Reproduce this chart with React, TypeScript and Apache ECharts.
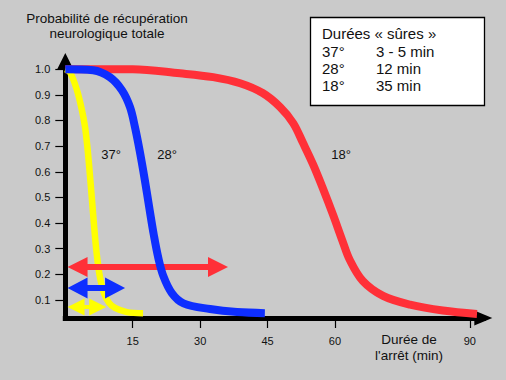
import React, { useEffect, useRef } from 'react';
import * as echarts from 'echarts';

// ---- Data ----
const redMinutes = [0, 15, 25.5, 32.9, 38.9, 44, 47.8, 50.7, 52.9, 55.1, 57.3, 59.6, 61.6, 63.3, 66.2, 70.7, 76.7, 84, 91.6];
const redProb = [1.0, 1.0, 0.984, 0.969, 0.945, 0.906, 0.852, 0.79, 0.712, 0.63, 0.536, 0.431, 0.334, 0.256, 0.174, 0.116, 0.082, 0.059, 0.046];

const blueMinutes = [0, 6.2, 9.9, 12.6, 14.4, 15.5, 16.6, 17.7, 18.7, 19.7, 20.7, 21.8, 23.7, 26.3, 32.2, 38.2, 44.4];
const blueProb = [1.0, 0.996, 0.969, 0.918, 0.852, 0.774, 0.677, 0.567, 0.458, 0.353, 0.264, 0.194, 0.127, 0.087, 0.065, 0.053, 0.049];

const yellowMinutes = [0, 1.05, 2.6, 3.7, 4.4, 4.94, 5.5, 6.05, 6.6, 7.1, 7.7, 8.6, 9.7, 11.06, 13.7, 17.3];
const yellowProb = [1.0, 0.988, 0.918, 0.84, 0.774, 0.692, 0.583, 0.466, 0.349, 0.264, 0.19, 0.127, 0.09, 0.069, 0.053, 0.049];

// Double arrows ("safe durations"): start, end (minutes), level (probability)
const arrowFrom = [0.5, 0.5, 0.5];
const arrowTo = [36.2, 13.3, 9.1];
const arrowLevel = [0.229, 0.147, 0.073];

const xTicks = [15, 30, 45, 60, 90];
const yTicks = [0.1, 0.2, 0.3, 0.4, 0.5, 0.6, 0.7, 0.8, 0.9, 1.0];

const curveLabels = ['37°', '28°', '18°'];
const legendTitle = 'Durées « sûres »';
const legendTemps = ['37°', '28°', '18°'];
const legendDurations = ['3 - 5 min', '12 min', '35 min'];

const yTitle = 'Probabilité de récupération\nneurologique totale';
const xTitle = "Durée de\nl'arrêt (min)";

// ---- Styles ----
const FONT = 'Arial, "Liberation Sans", sans-serif';
const BG = '#cacaca';
const RED = '#ff3038';
const BLUE = '#0e2eff';
const YELLOW = '#ffff00';
const TXT = '#111111';

const arrowColors = [RED, BLUE, YELLOW];
const arrowHeadH = [20, 21, 17];
const arrowHeadL = [20, 20, 17];
const arrowShaft = [6, 6, 4];

const pairs = (xs: number[], ys: number[]) => xs.map((x, i) => [x, ys[i]]);

export default function App() {
  const ref = useRef<HTMLDivElement>(null);

  useEffect(() => {
    if (!ref.current) return;
    const chart = echarts.init(ref.current, null, { renderer: 'svg' });

    const curve = (data: number[][], color: string, width: number, z: number) => ({
      type: 'line',
      data,
      smooth: 0.35,
      showSymbol: false,
      symbol: 'none',
      silent: true,
      clip: false,
      z,
      lineStyle: { color, width, cap: 'butt', join: 'round' },
    });

    const option: any = {
      animation: false,
      backgroundColor: BG,
      grid: { left: 65.3, right: 22.7, top: 61.5, bottom: 62, containLabel: false },
      xAxis: {
        type: 'value',
        min: 0,
        max: 93,
        splitLine: { show: false },
        axisLine: {
          show: true,
          onZero: false,
          symbol: ['none', 'triangle'],
          symbolSize: [15, 18],
          lineStyle: { color: '#000', width: 5, cap: 'square' },
        },
        axisTick: { show: true, length: 10, customValues: xTicks, lineStyle: { color: '#000', width: 1.2 } },
        axisLabel: {
          show: true,
          customValues: xTicks,
          margin: 17,
          fontSize: 11,
          fontFamily: FONT,
          color: TXT,
        },
      },
      yAxis: {
        type: 'value',
        min: 0.03,
        max: 1.03,
        splitLine: { show: false },
        axisLine: {
          show: true,
          onZero: false,
          symbol: ['none', 'triangle'],
          symbolSize: [17, 17],
          lineStyle: { color: '#000', width: 5, cap: 'square' },
        },
        axisTick: { show: true, length: 10, customValues: yTicks, lineStyle: { color: '#000', width: 1.2 } },
        axisLabel: {
          show: true,
          customValues: yTicks,
          margin: 15,
          fontSize: 11,
          fontFamily: FONT,
          color: TXT,
          formatter: (v: number) => v.toFixed(1),
        },
      },
      series: [
        curve(pairs(redMinutes, redProb), RED, 8, 2),
        curve(pairs(yellowMinutes, yellowProb), YELLOW, 6.5, 3),
        {
          type: 'custom',
          z: 4,
          silent: true,
          clip: false,
          encode: { x: [0, 1], y: 2 },
          data: arrowFrom.map((f, i) => [f, arrowTo[i], arrowLevel[i]]),
          renderItem: (params: any, api: any) => {
            const i = params.dataIndex;
            const a = api.coord([api.value(0), api.value(2)]);
            const b = api.coord([api.value(1), api.value(2)]);
            const y = a[1];
            const hh = arrowHeadH[i] / 2;
            const hl = arrowHeadL[i];
            const sw = arrowShaft[i] / 2;
            const points = [
              [a[0], y],
              [a[0] + hl, y - hh],
              [a[0] + hl, y - sw],
              [b[0] - hl, y - sw],
              [b[0] - hl, y - hh],
              [b[0], y],
              [b[0] - hl, y + hh],
              [b[0] - hl, y + sw],
              [a[0] + hl, y + sw],
              [a[0] + hl, y + hh],
            ];
            return { type: 'polygon', shape: { points }, style: { fill: arrowColors[i] } };
          },
        },
        curve(pairs(blueMinutes, blueProb), BLUE, 8, 5),
      ],
      graphic: [
        {
          type: 'text',
          x: 107,
          y: 25.5,
          style: { text: yTitle, fontSize: 13.5, fontFamily: FONT, fill: TXT, align: 'center', verticalAlign: 'middle', lineHeight: 15 },
        },
        {
          type: 'text',
          x: 409,
          y: 347,
          style: { text: xTitle, fontSize: 13.5, fontFamily: FONT, fill: TXT, align: 'center', verticalAlign: 'middle', lineHeight: 16 },
        },
        {
          type: 'rect',
          shape: { x: 310.5, y: 17.5, width: 174, height: 88 },
          style: { fill: '#ffffff', stroke: '#000000', lineWidth: 1.3 },
        },
        {
          type: 'text',
          x: 322,
          y: 33,
          style: { text: legendTitle, fontSize: 15, fontFamily: FONT, fill: TXT, align: 'left', verticalAlign: 'middle' },
        },
        ...legendTemps.map((t, i) => ({
          type: 'text',
          x: 322,
          y: 51 + i * 17,
          style: { text: t, fontSize: 15, fontFamily: FONT, fill: TXT, align: 'left', verticalAlign: 'middle' },
        })),
        ...legendDurations.map((t, i) => ({
          type: 'text',
          x: 376,
          y: 51 + i * 17,
          style: { text: t, fontSize: 15, fontFamily: FONT, fill: TXT, align: 'left', verticalAlign: 'middle' },
        })),
        ...curveLabels.map((t, i) => ({
          type: 'text',
          x: [111, 167, 341][i],
          y: 154,
          style: { text: t, fontSize: 13, fontFamily: FONT, fill: TXT, align: 'center', verticalAlign: 'middle' },
        })),
      ],
    };

    chart.setOption(option);
    return () => chart.dispose();
  }, []);

  return (
    <div
      ref={ref}
      style={{ position: 'fixed', left: 0, top: 0, width: 506, height: 380, background: BG }}
    />
  );
}
